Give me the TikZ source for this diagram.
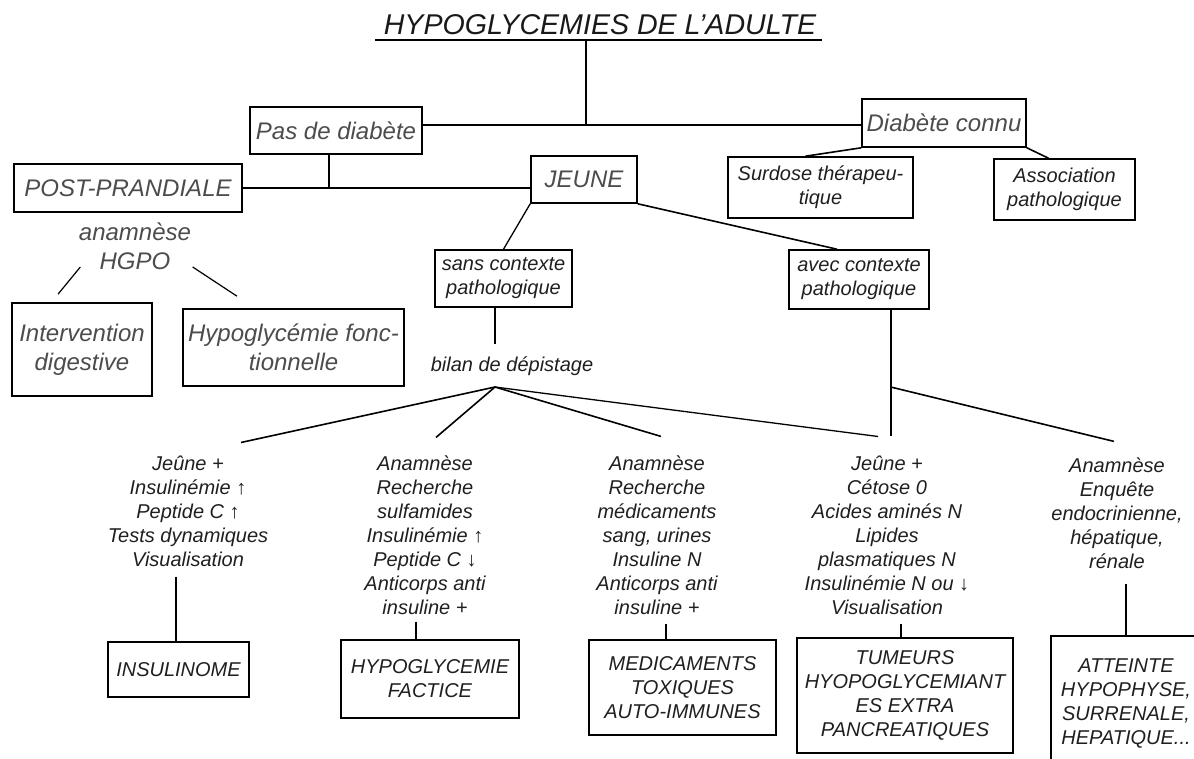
\documentclass[tikz,border=0pt]{standalone}
\usepackage{fontspec}
\setmainfont{Liberation Sans}
\begin{document}
\begin{tikzpicture}[x=1pt,y=-1pt,line width=1.6pt,
  box/.style={draw, inner sep=2pt, align=center},
  big/.style={font=\fontsize{24}{29}\selectfont\itshape, text=black!70, align=center},
  small/.style={font=\fontsize{20}{24}\selectfont\itshape, text=black!88, align=center}]
\useasboundingbox (0,0) rectangle (1194,758);
% titre
\node[inner xsep=0pt, inner ysep=4pt, font=\fontsize{28.6}{34}\selectfont\itshape, text=black!90] (titre) at (600,25) {HYPOGLYCEMIES DE L’ADULTE};
\draw ([xshift=-8pt]titre.south west) -- ([xshift=5pt]titre.south east);
% haut
\node[box,big,minimum width=172pt,minimum height=47pt] (pas) at (336,130.5) {Pas de diabète};
\node[box,big,minimum width=164pt,minimum height=48pt] (connu) at (944,123) {Diabète connu};
\node[box,big,minimum width=228pt,minimum height=48pt] (post) at (128,188) {POST-PRANDIALE};
\node[box,big,minimum width=106pt,minimum height=47pt] (jeune) at (584,179.5) {JEUNE};
\node[box,small,minimum width=185pt,minimum height=61pt] (surdose) at (820.5,187.5) {Surdose thérapeu-\\tique};
\node[box,small,minimum width=141pt,minimum height=61pt] (assoc) at (1064.5,189.5) {Association\\pathologique};
\node[big] (anam) at (135,246) {anamnèse\\HGPO};
\node[box,big,minimum width=140pt,minimum height=93pt] (interv) at (82,349.5) {Intervention\\digestive};
\node[box,big,minimum width=221pt,minimum height=77pt] (fonct) at (293.5,347.5) {Hypoglycémie fonc-\\tionnelle};
\node[box,small,minimum width=137pt,minimum height=57pt] (sans) at (503.5,278.5) {sans contexte\\pathologique};
\node[box,small,minimum width=140pt,minimum height=59pt] (avec) at (859,279.5) {avec contexte\\pathologique};
\node[small] (bilan) at (512,366) {bilan de dépistage};
% bilans
\node[small] (c1) at (188,511) {Jeûne +\\Insulinémie ↑\\Peptide C ↑\\Tests dynamiques\\Visualisation};
\node[small] (c2) at (425,535) {Anamnèse\\Recherche\\sulfamides\\Insulinémie ↑\\Peptide C ↓\\Anticorps anti\\insuline +};
\node[small] (c3) at (657,535) {Anamnèse\\Recherche\\médicaments\\sang, urines\\Insuline N\\Anticorps anti\\insuline +};
\node[small] (c4) at (887,535) {Jeûne +\\Cétose 0\\Acides aminés N\\Lipides\\plasmatiques N\\Insulinémie N ou ↓\\Visualisation};
\node[small] (c5) at (1117,513) {Anamnèse\\Enquête\\endocrinienne,\\hépatique,\\rénale};
% diagnostics
\node[box,small,minimum width=141pt,minimum height=55pt] (insul) at (178.5,669.5) {INSULINOME};
\node[box,small,minimum width=178pt,minimum height=78pt] (factice) at (430,679) {HYPOGLYCEMIE\\FACTICE};
\node[box,small,minimum width=187pt,minimum height=95pt] (medic) at (682.5,687.5) {MEDICAMENTS\\TOXIQUES\\AUTO-IMMUNES};
\node[box,small,minimum width=216pt,minimum height=115pt] (tumeur) at (905,695.5) {TUMEURS\\HYOPOGLYCEMIANT\\ES EXTRA\\PANCREATIQUES};
\node[box,small,minimum width=150pt,minimum height=134pt] (atteinte) at (1126,703) {ATTEINTE\\HYPOPHYSE,\\SURRENALE,\\HEPATIQUE...};
% liens
\coordinate (t) at (586,125);
\draw (titre.south -| t) -- (t);
\draw (pas.east |- t) -- (connu.west |- t);
\coordinate (p) at (329,188);
\draw (pas.south -| p) -- (p);
\draw (post.east) -- (jeune.west |- post.east);
\draw (connu.south west) -- ([xshift=-15pt]surdose.north);
\draw (connu.south east) -- ([xshift=-16pt]assoc.north);
\draw[line width=1.3pt] (jeune.south west) -- (sans.north);
\draw (jeune.south east) -- ([xshift=-22pt]avec.north);
\draw[line width=1.2pt] ([shift={(5.5,-6.6)}]anam.south west) -- ([shift={(-24,-8)}]interv.north);
\draw[line width=1.2pt] ([shift={(-2.5,-6.6)}]anam.south east) -- ([shift={(-56.5,-12)}]fonct.north);
\coordinate (fan) at (495,387);
\draw[shorten >=8pt] (sans.south -| fan) -- (bilan.north -| fan);
\foreach \c/\dx/\dy in {c1/53/9, c2/11/14, c3/4/15}
  \draw (fan) -- ([xshift=\dx pt, yshift=\dy pt]\c.north);
\draw[line width=1.3pt] (fan) -- ([xshift=-9pt, yshift=15pt]c4.north);
\draw ([xshift=32pt]avec.south) -- coordinate[pos=0.61] (br) ([xshift=4pt, yshift=15pt]c4.north);
\draw (br) -- ([xshift=-3pt, yshift=12pt]c5.north);
\foreach \c/\b/\dx/\s in {c1/insul/-12/6, c2/factice/-9/3, c3/medic/9/5, c4/tumeur/14/5, c5/atteinte/9/11}
  \draw[shorten <=\s pt] ([xshift=\dx pt]\c.south) -- ([xshift=\dx pt]\c.south |- \b.north);
\end{tikzpicture}
\end{document}
